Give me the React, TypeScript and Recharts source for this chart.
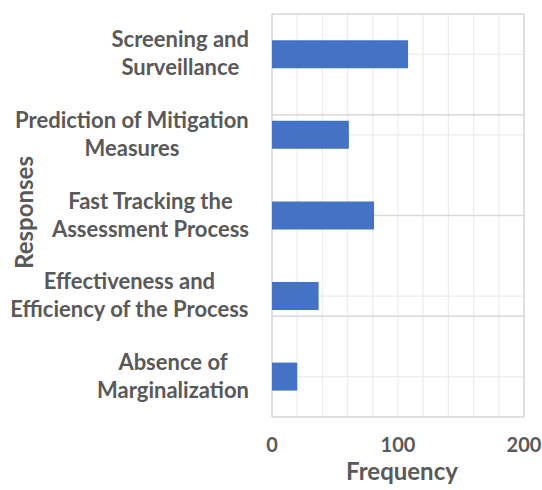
import { Bar, BarChart, CartesianGrid, XAxis, YAxis } from "recharts";

const responses = [
  "Screening and Surveillance",
  "Prediction of Mitigation Measures",
  "Fast Tracking the Assessment Process",
  "Effectiveness and Efficiency of the Process",
  "Absence of Marginalization",
];
// how each category label wraps on the axis
const responseLines = [
  ["Screening and", "Surveillance"],
  ["Prediction of Mitigation", "Measures"],
  ["Fast Tracking the", "Assessment Process"],
  ["Effectiveness and", "Efficiency of the Process"],
  ["Absence of", "Marginalization"],
];
const frequency = [108, 61, 81, 37, 20];

const freqTicks = [0, 100, 200];
const minorFreqTicks = [0, 20, 40, 60, 80, 100, 120, 140, 160, 180, 200];
const categoryEdges = [0, 1, 2, 3, 4, 5];

const data = responses.map((response, i) => ({ response, frequency: frequency[i] }));

const FONT = "Lato, Calibri, 'Open Sans', sans-serif";
const TICK_SIZE = 20;
const CAT_SIZE = 22;
const TITLE_SIZE = 24;
const TEXT = "#595959";
const BAR = "#4472C4";
const MAJOR_GRID = "#d9d9d9";
const MINOR_GRID = "#ececec";

let ctx: CanvasRenderingContext2D | null = null;
function textWidth(s: string) {
  if (!ctx) ctx = document.createElement("canvas").getContext("2d");
  if (!ctx) return s.length * CAT_SIZE * 0.5;
  ctx.font = `bold ${CAT_SIZE}px Lato`;
  return ctx.measureText(s).width;
}

function ResponseTick({ x, y, payload }: any) {
  const idx = responses.indexOf(payload.value);
  const lines = responseLines[idx] ?? [payload.value];
  const w = Math.max(...lines.map(textWidth));
  const cx = x - w / 2;
  const lineH = 28;
  const y0 = y - ((lines.length - 1) * lineH) / 2 + 7;
  return (
    <text textAnchor="middle" fill={TEXT} fontFamily={FONT} fontSize={CAT_SIZE} fontWeight="bold">
      {lines.map((l, i) => (
        <tspan key={i} x={cx} y={y0 + i * lineH}>
          {l}
        </tspan>
      ))}
    </text>
  );
}

// only the major values get a label, the rest just carry grid lines
function FreqTick({ x, y, payload }: any) {
  if (!freqTicks.includes(payload.value)) return null;
  return (
    <text x={x} y={y + 27} textAnchor="middle" fill={TEXT} fontFamily={FONT} fontSize={TICK_SIZE} fontWeight="bold">
      {payload.value}
    </text>
  );
}

function FreqLabel({ viewBox }: any) {
  const { x, y, width } = viewBox;
  return (
    <text x={x + width / 2 + 4} y={y + 63} textAnchor="middle" fill={TEXT} fontFamily={FONT} fontSize={TITLE_SIZE} fontWeight="bold">
      Frequency
    </text>
  );
}

function ResponsesLabel({ viewBox }: any) {
  const { x, y, height } = viewBox;
  const lx = x + 33;
  const ly = y + height / 2 - 3;
  return (
    <text
      x={lx}
      y={ly}
      transform={`rotate(-90, ${lx}, ${ly})`}
      textAnchor="middle"
      fill={TEXT}
      fontFamily={FONT}
      fontSize={TITLE_SIZE}
      fontWeight="bold"
    >
      Responses
    </text>
  );
}

export default function App() {
  return (
    <div style={{ position: "absolute", left: 0, top: 0, width: 542, height: 490, background: "#fff" }}>
      <BarChart
        width={542}
        height={490}
        data={data}
        layout="vertical"
        margin={{ top: 14, right: 18, bottom: 0, left: 0 }}
        barCategoryGap="32.5%"
      >
        <CartesianGrid horizontal={false} stroke={MINOR_GRID} strokeWidth={1.2} />
        <CartesianGrid vertical={false} stroke={MINOR_GRID} strokeWidth={1.2} />
        <CartesianGrid xAxisId="major" horizontal={false} stroke={MAJOR_GRID} strokeWidth={1.5} />
        <CartesianGrid yAxisId="edges" vertical={false} stroke={MAJOR_GRID} strokeWidth={1.5} />
        <XAxis
          type="number"
          domain={[0, 200]}
          ticks={minorFreqTicks}
          interval={0}
          axisLine={false}
          tickLine={false}
          height={73}
          tick={<FreqTick />}
          label={<FreqLabel />}
        />
        <XAxis xAxisId="major" type="number" domain={[0, 200]} ticks={freqTicks} hide />
        <YAxis
          type="category"
          dataKey="response"
          width={272}
          axisLine={false}
          tickLine={false}
          tickSize={6}
          tickMargin={17}
          tick={<ResponseTick />}
          interval={0}
          label={<ResponsesLabel />}
        />
        <YAxis yAxisId="edges" type="number" domain={[0, 5]} ticks={categoryEdges} hide />
        <Bar dataKey="frequency" fill={BAR} isAnimationActive={false} />
      </BarChart>
    </div>
  );
}
